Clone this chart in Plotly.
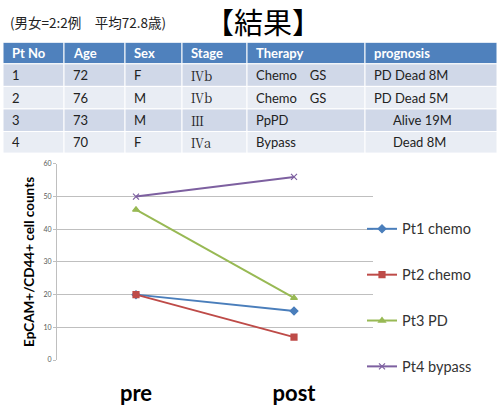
import plotly.graph_objects as go

# Patient table
col_headers = ["Pt No", "Age", "Sex", "Stage", "Therapy", "prognosis"]
pt_no = ["1", "2", "3", "4"]
age = ["72", "76", "73", "70"]
sex = ["F", "M", "M", "F"]
stage = ["Ⅳb", "Ⅳb", "Ⅲ", "Ⅳa"]
therapy = ["Chemo\u3000GS", "Chemo\u3000GS", "PpPD", "Bypass"]
prognosis = ["PD Dead 8M", "PD Dead 5M", "Alive 19M", "Dead 8M"]
prognosis_indent = [0, 0, 1, 1]

# Cell counts before / after treatment
timepoints = ["pre", "post"]
series_names = ["Pt1 chemo", "Pt2 chemo", "Pt3 PD", "Pt4 bypass"]
pt1 = [20, 15]
pt2 = [20, 7]
pt3 = [46, 19]
pt4 = [50, 56]
series_values = [pt1, pt2, pt3, pt4]
colors = ["#4A7EBB", "#BE4B48", "#98B954", "#7D60A0"]
symbols = ["diamond", "square", "triangle-up", "x-thin"]

W, H = 498, 414
fig = go.Figure()

# ---- table drawn as paper-space rectangles and text ----
col_edges = [3, 64, 125, 182, 247, 365, 497]
row_edges = [38, 60, 83, 106, 129, 151]
header_fill = "#4F81BD"
row_fill = ["#D0D8E8", "#E9EDF4", "#D0D8E8", "#E9EDF4"]
columns = [pt_no, age, sex, stage, therapy, prognosis]


def px(x):
    return x / W


def py(y):
    return 1 - y / H


shapes = []
annotations = []
for r in range(5):
    y0, y1 = row_edges[r], row_edges[r + 1]
    fill = header_fill if r == 0 else row_fill[r - 1]
    for c in range(6):
        x0, x1 = col_edges[c], col_edges[c + 1]
        shapes.append(dict(type="rect", xref="paper", yref="paper",
                           x0=px(x0), x1=px(x1), y0=py(y1), y1=py(y0),
                           fillcolor=fill, line=dict(color="white", width=1),
                           layer="below"))
        family = "Lato"
        if r == 0:
            txt = "<b>%s</b>" % col_headers[c]
            fcol = "white"
        else:
            txt = columns[c][r - 1]
            fcol = "#222222"
            if c == 3:
                family = "Noto Serif CJK JP, Noto Sans CJK JP"
        pad = 7
        if c == 5 and r > 0 and prognosis_indent[r - 1]:
            pad = 26
        annotations.append(dict(text=txt, x=px(x0 + pad), y=py((y0 + y1) / 2),
                                xref="paper", yref="paper",
                                xanchor="left", yanchor="middle",
                                showarrow=False,
                                font=dict(family=family, size=13, color=fcol)))

for name, vals, c, s in zip(series_names, series_values, colors, symbols):
    fig.add_trace(go.Scatter(
        x=timepoints, y=vals, name=name, mode="lines+markers",
        line=dict(color=c, width=2),
        marker=dict(symbol=s, size=6, color=c,
                    line=dict(color=c, width=1.2)),
        legendgroup=name,
    ))

annotations += [
    dict(text="(男女=2:2例\u3000平均72.8歳)", x=px(8), y=py(17),
         xref="paper", yref="paper", xanchor="left", yanchor="middle",
         showarrow=False,
         font=dict(family="Noto Sans CJK JP", size=13.5, color="#222222")),
    dict(text="【結果】", x=px(263), y=py(16),
         xref="paper", yref="paper", xanchor="center", yanchor="middle",
         showarrow=False,
         font=dict(family="Noto Sans CJK JP", size=29, color="black")),
]

fig.update_layout(
    width=W, height=H,
    margin=dict(l=0, r=0, t=0, b=0),
    paper_bgcolor="white", plot_bgcolor="white",
    showlegend=True,
    legend=dict(x=px(362), y=py(212), xanchor="left", yanchor="top",
                font=dict(family="Lato", size=14.5, color="#333333"),
                tracegroupgap=24, itemwidth=30, bgcolor="rgba(0,0,0,0)"),
    xaxis=dict(domain=[px(57), px(373)], range=[-0.5, 1.5],
               showgrid=False, showline=False,
               ticks="", ticklabelstandoff=18,
               tickfont=dict(family="Lato", size=22, color="black"),
               tickvals=timepoints, ticktext=["<b>%s</b>" % t for t in timepoints]),
    yaxis=dict(domain=[py(362), py(162)], range=[0, 60], dtick=10,
               showgrid=True, gridcolor="#BFBFBF", gridwidth=1,
               showline=True, linecolor="#BFBFBF", zeroline=False,
               ticks="outside", ticklen=3, tickcolor="#BFBFBF",
               tickfont=dict(family="Lato", size=7, color="#595959"),
               title=dict(text="<b>EpCAM+/CD44+ cell counts</b>", standoff=5,
                          font=dict(family="Lato", size=13.5, color="black"))),
    shapes=shapes,
    annotations=annotations,
)

fig.write_html("out.html")
